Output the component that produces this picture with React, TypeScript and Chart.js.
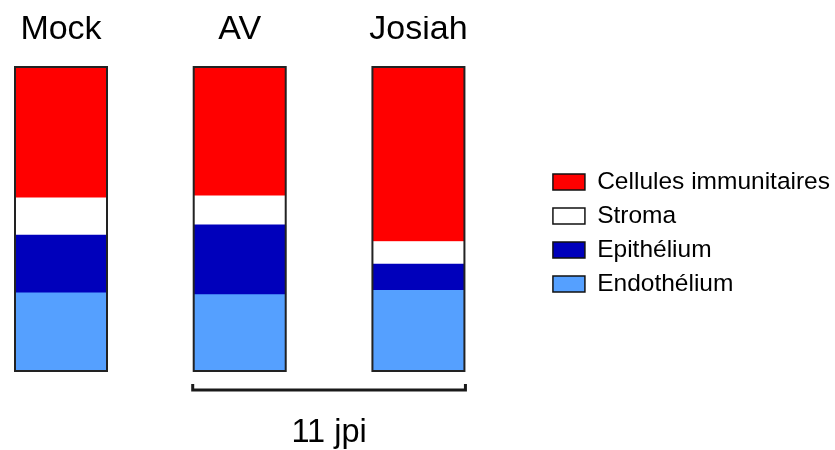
import React, { useEffect, useRef } from 'react';
import { Chart, registerables } from 'chart.js';

Chart.register(...registerables);

// ---- data ----
const categories = ['Mock', 'AV', 'Josiah'];
const seriesNames = ['Endothélium', 'Epithélium', 'Stroma', 'Cellules immunitaires'];
const endothelium = [25.7, 25.1, 26.5];
const epithelium = [19.0, 23.0, 8.7];
const stroma = [12.3, 9.5, 7.4];
const immune = [43.0, 42.4, 57.4];
const groupLabel = '11 jpi';
const groupMembers = ['AV', 'Josiah'];

const seriesColors = ['#55A0FF', '#0000BB', '#FFFFFF', '#FF0000'];
const FONT = '"Liberation Sans", Arial, Helvetica, sans-serif';

const outlinePlugin = {
  id: 'stackOutline',
  afterDatasetsDraw(chart: any) {
    const ctx = chart.ctx;
    const n = chart.data.datasets.length;
    const bottomMeta = chart.getDatasetMeta(0);
    const topMeta = chart.getDatasetMeta(n - 1);
    ctx.save();
    ctx.strokeStyle = '#222222';
    ctx.lineWidth = 2;
    bottomMeta.data.forEach((bar: any, i: number) => {
      const p = bar.getProps(['x', 'width', 'base'], true);
      const t = topMeta.data[i].getProps(['y'], true);
      ctx.strokeRect(p.x - p.width / 2, t.y, p.width, p.base - t.y);
    });
    ctx.restore();
  },
};

const bracketPlugin = {
  id: 'groupBracket',
  afterDraw(chart: any) {
    const ctx = chart.ctx;
    const meta = chart.getDatasetMeta(0);
    const i1 = categories.indexOf(groupMembers[0]);
    const i2 = categories.indexOf(groupMembers[groupMembers.length - 1]);
    const b1 = meta.data[i1].getProps(['x', 'width'], true);
    const b2 = meta.data[i2].getProps(['x', 'width'], true);
    const left = b1.x - b1.width / 2 - 1;
    const right = b2.x + b2.width / 2 + 1;
    const bottom = chart.chartArea.bottom;
    const y = bottom + 19;
    ctx.save();
    ctx.strokeStyle = '#1a1a1a';
    ctx.lineWidth = 3;
    ctx.lineJoin = 'miter';
    ctx.beginPath();
    ctx.moveTo(left, y - 6);
    ctx.lineTo(left, y);
    ctx.lineTo(right, y);
    ctx.lineTo(right, y - 6);
    ctx.stroke();
    ctx.fillStyle = '#000';
    ctx.font = `32.5px ${FONT}`;
    ctx.textAlign = 'center';
    ctx.textBaseline = 'alphabetic';
    ctx.fillText(groupLabel, (left + right) / 2, bottom + 71);
    ctx.restore();
  },
};

export default function App() {
  const ref = useRef<HTMLCanvasElement | null>(null);

  useEffect(() => {
    document.body.style.margin = '0';
    if (!ref.current) return;
    Chart.defaults.font.family = FONT;
    const values = [endothelium, epithelium, stroma, immune];
    const chart = new Chart(ref.current, {
      type: 'bar',
      data: {
        labels: categories,
        datasets: seriesNames.map((name, k) => ({
          label: name,
          data: values[k],
          backgroundColor: seriesColors[k],
          borderWidth: 0,
          barThickness: 92,
          clip: false as any,
        })),
      },
      options: {
        responsive: false,
        maintainAspectRatio: false,
        animation: false,
        events: [],
        layout: { padding: { left: 61, top: 16, right: -5, bottom: 0 } },
        scales: {
          x: {
            type: 'category',
            position: 'top',
            offset: false,
            stacked: true,
            grid: { display: false, drawTicks: false },
            border: { display: false },
            ticks: {
              font: { size: 34 },
              color: '#000',
              padding: 17,
              maxRotation: 0,
              autoSkip: false,
            },
            afterFit(s: any) {
              s.height = 51;
            },
          },
          xSpacer: {
            type: 'category',
            axis: 'x',
            position: 'bottom',
            display: true,
            grid: { display: false, drawTicks: false },
            border: { display: false },
            ticks: { display: false },
            afterFit(s: any) {
              s.height = 79;
            },
          },
          y: {
            position: 'right',
            display: false,
            stacked: true,
            min: 0,
            max: 100,
            grid: { display: false, drawTicks: false },
            border: { display: false },
            ticks: { display: false },
            afterFit(s: any) {
              s.width = 125;
            },
          },
        } as any,
        plugins: {
          tooltip: { enabled: false },
          legend: {
            position: 'right',
            reverse: true,
            labels: {
              color: '#000',
              font: { size: 24.5 },
              boxWidth: 32,
              boxHeight: 16,
              padding: 9.5,
              generateLabels: (c: any) =>
                (Chart.defaults.plugins.legend.labels as any)
                  .generateLabels(c)
                  .map((l: any) => ({ ...l, lineWidth: 1.5, strokeStyle: '#111' })),
            },
          },
        },
      },
      plugins: [outlinePlugin, bracketPlugin],
    });
    return () => chart.destroy();
  }, []);

  return (
    <div style={{ width: 835, height: 450 }}>
      <canvas ref={ref} width={835} height={450} style={{ display: 'block' }} />
    </div>
  );
}
